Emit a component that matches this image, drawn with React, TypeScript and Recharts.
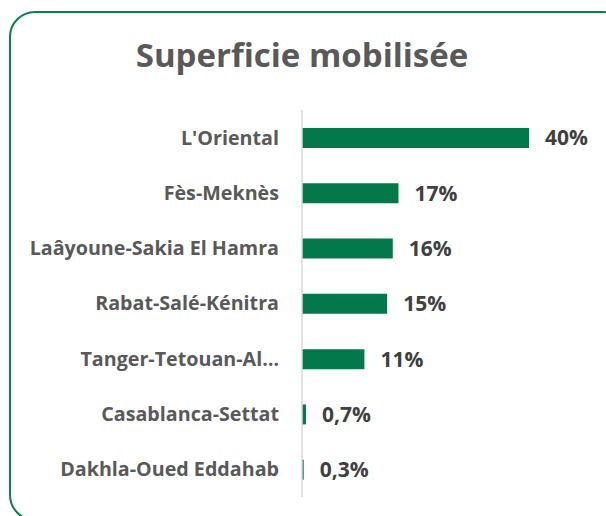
import React from "react";
import { BarChart, Bar, XAxis, YAxis, LabelList } from "recharts";

const regions = [
  "L'Oriental",
  "Fès-Meknès",
  "Laâyoune-Sakia El Hamra",
  "Rabat-Salé-Kénitra",
  "Tanger-Tetouan-Al…",
  "Casablanca-Settat",
  "Dakhla-Oued Eddahab",
];
const shares = [40, 17, 16, 15, 11, 0.7, 0.3];
const title = "Superficie mobilisée";

const data = regions.map((r, i) => ({ region: r, value: shares[i] }));

const FONT = "'Open Sans', sans-serif";

const fmt = (v: any) => String(v).replace(".", ",") + "%";

export default function App() {
  return (
    <div
      style={{
        position: "fixed",
        left: 0,
        top: 0,
        width: 606,
        height: 516,
        overflow: "hidden",
        background: "#ffffff",
      }}
    >
      <div
        style={{
          position: "absolute",
          left: 9,
          top: 11,
          width: 620,
          height: 510,
          border: "2px solid #0b7f4f",
          borderRadius: 26,
          boxSizing: "border-box",
        }}
      />
      <svg
        width={606}
        height={100}
        style={{ position: "absolute", left: 0, top: 0 }}
      >
        <text
          x={302}
          y={67}
          textAnchor="middle"
          fontFamily={FONT}
          fontWeight={700}
          fontSize={33}
          fill="#595959"
        >
          {title}
        </text>
      </svg>
      <div style={{ position: "absolute", left: 0, top: 0 }}>
        <BarChart
          width={606}
          height={516}
          data={data}
          layout="vertical"
          margin={{ top: 110, right: 77, bottom: 19, left: 0 }}
          barCategoryGap={0}
        >
          <XAxis type="number" hide domain={[0, 40]} />
          <YAxis
            type="category"
            dataKey="region"
            width={302}
            axisLine={{ stroke: "#d9d9d9", strokeWidth: 1.5 }}
            tickLine={false}
            tickSize={0}
            tickMargin={23}
            interval={0}
            tick={{
              fill: "#595959",
              fontSize: 19.7,
              fontWeight: 700,
              fontFamily: FONT,
            }}
          />
          <Bar
            dataKey="value"
            fill="#03794b"
            barSize={20}
            isAnimationActive={false}
          >
            <LabelList
              dataKey="value"
              position="right"
              offset={16}
              formatter={fmt}
              fill="#404040"
              fontSize={21}
              fontWeight={700}
              fontFamily={FONT}
            />
          </Bar>
        </BarChart>
      </div>
    </div>
  );
}
